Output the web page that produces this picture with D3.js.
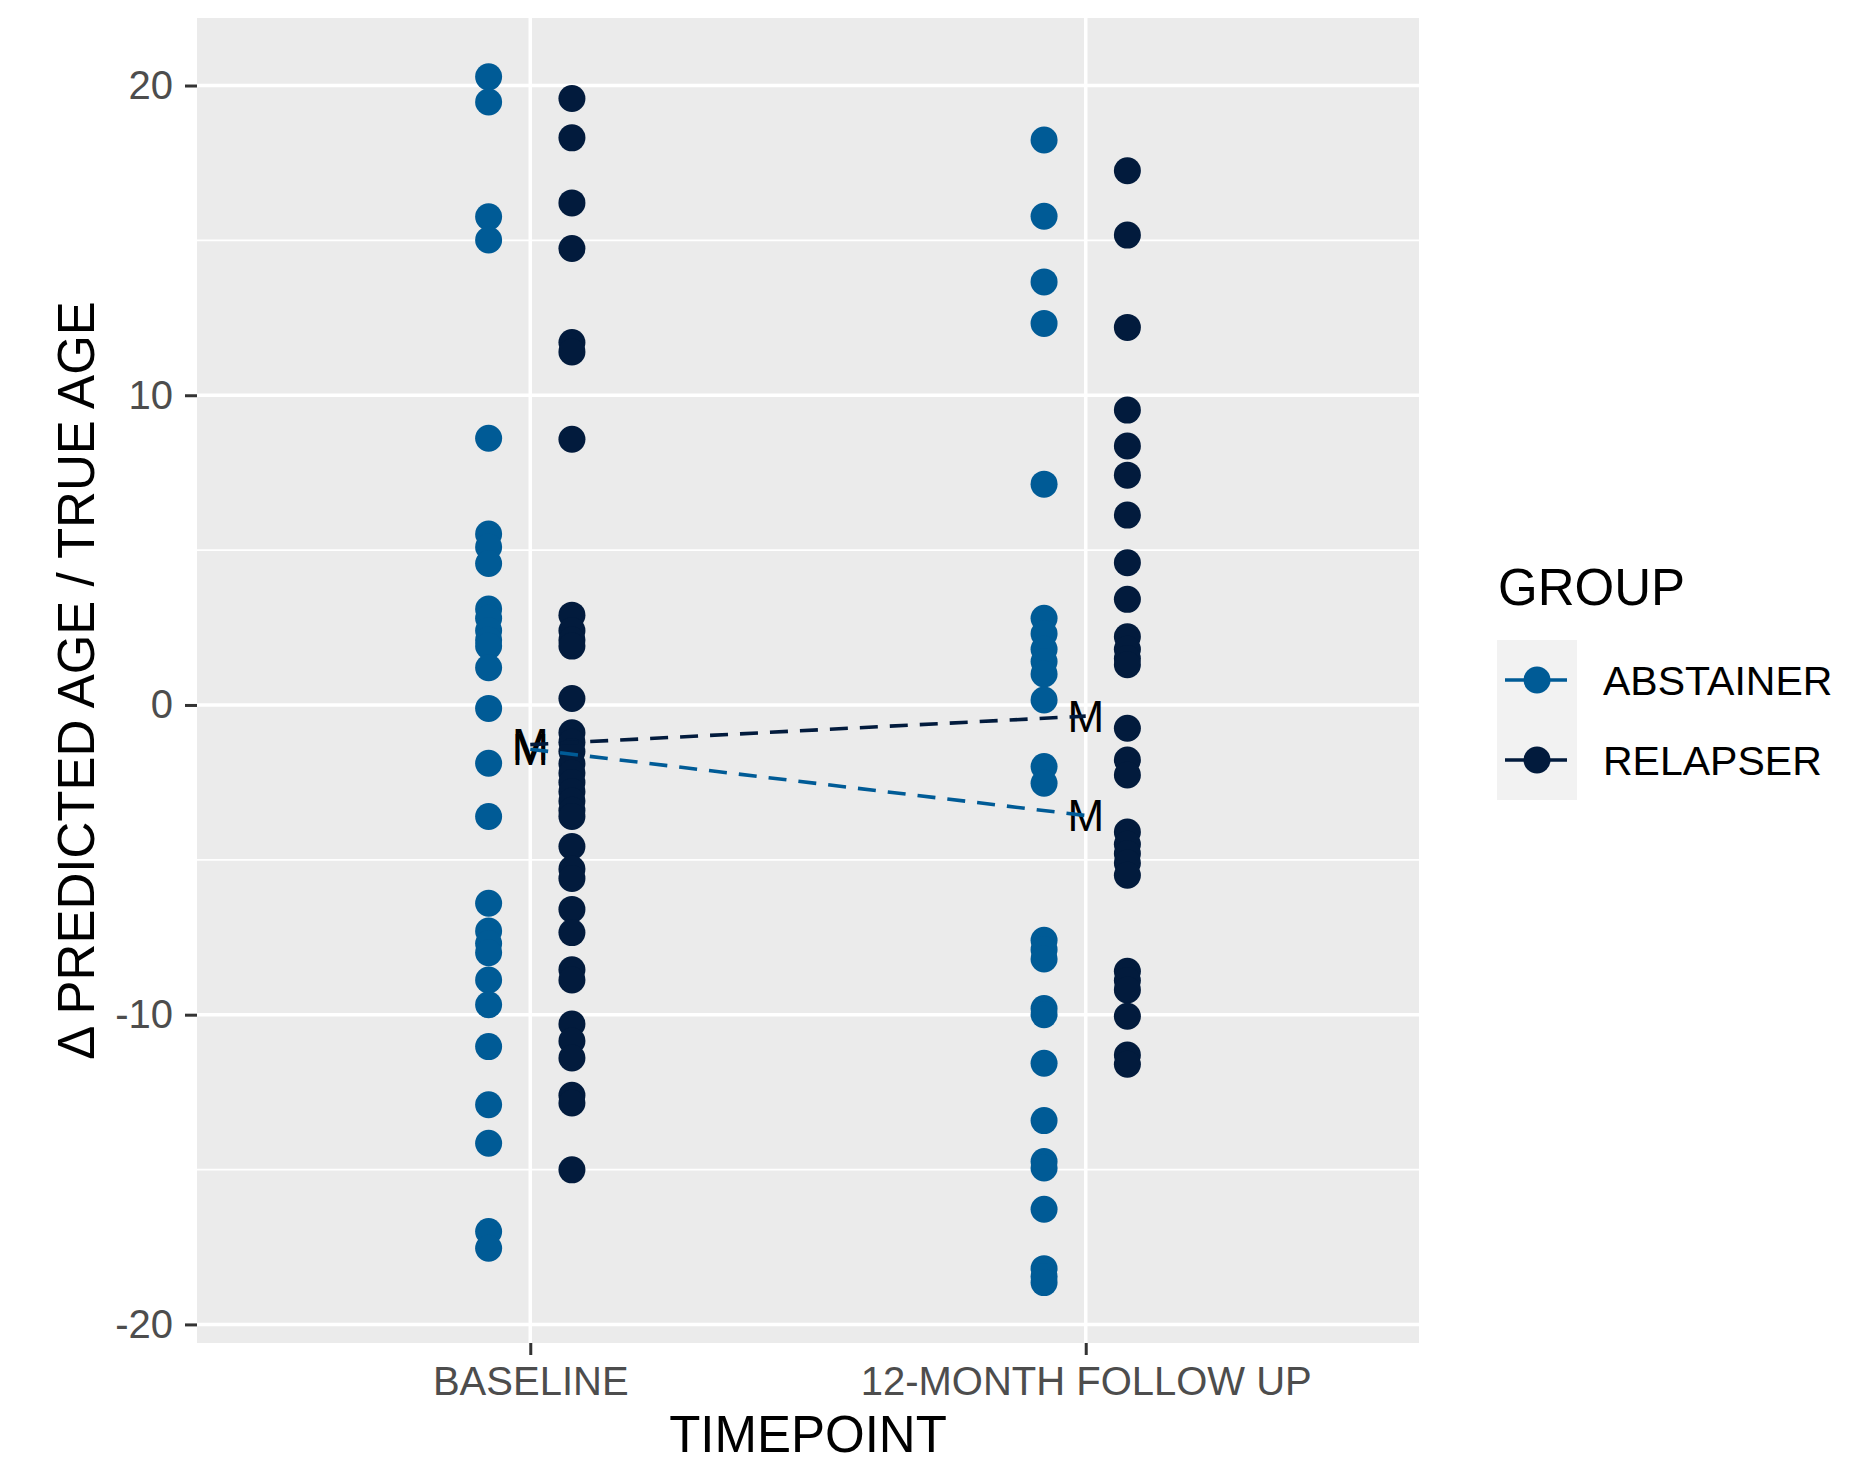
<!DOCTYPE html>
<meta charset="utf-8">
<style>
body { margin: 0; background: #fff; }
svg, text { font-family: 'Liberation Sans', Arial, sans-serif; }
</style>
<body>
<script src="https://d3js.org/d3.v7.min.js"></script>
<script>

// values
var timepoints = ["BASELINE", "12-MONTH FOLLOW UP"];
var groups = ["ABSTAINER", "RELAPSER"];
var colors = ["#005b96", "#021b3d"];

var baselineAbstainer = [20.28, 19.47, 15.76, 15.01, 8.61, 5.52, 5.1, 4.57, 3.1, 2.8, 2.4, 2.1, 1.9, 1.2,
  -0.11, -1.88, -3.6, -6.4, -7.3, -7.7, -8.0, -8.88, -9.68, -11.03, -12.91, -14.15, -17.0, -17.54];
var baselineRelapser = [19.58, 18.31, 16.21, 14.74, 11.7, 11.4, 8.58, 2.9, 2.4, 2.1, 1.9, 0.21,
  -0.9, -1.2, -1.5, -1.9, -2.2, -2.5, -2.8, -3.1, -3.4, -3.6, -4.57, -5.3, -5.6, -6.6, -7.35,
  -8.55, -8.88, -10.3, -10.85, -11.4, -12.6, -12.85, -15.01];
var followAbstainer = [18.24, 15.78, 13.66, 12.32, 7.13, 2.8, 2.3, 1.8, 1.4, 1.0, 0.16, -1.99, -2.53,
  -7.6, -7.9, -8.2, -9.8, -10.0, -11.57, -13.42, -14.74, -14.95, -16.28, -18.2, -18.45, -18.65];
var followRelapser = [17.25, 15.17, 12.19, 9.52, 8.36, 7.42, 6.13, 4.59, 3.41, 2.2, 1.8, 1.5, 1.3,
  -0.75, -1.78, -2.26, -4.1, -4.5, -4.8, -5.1, -5.5, -8.6, -8.9, -9.2, -10.05, -11.3, -11.6];

// group means (M labels), baseline then follow up
var meanAbstainer = [-1.43, -3.57];
var meanRelapser = [-1.28, -0.36];

var yTicks = [-20, -10, 0, 10, 20];
var yMinor = [-15, -5, 5, 15];

var width = 1859, height = 1458;
var panel = {left: 197, right: 1419, top: 18, bottom: 1343};

var x = d3.scaleLinear().domain([0.4, 2.6]).range([panel.left, panel.right]),
    y = d3.scaleLinear().domain([-20.6, 22.18]).range([panel.bottom, panel.top]);

var dodge = [-0.075, 0.075];

var svg = d3.select("body").append("svg")
    .attr("width", width)
    .attr("height", height);

// panel + grid
svg.append("rect")
    .attr("x", panel.left).attr("y", panel.top)
    .attr("width", panel.right - panel.left)
    .attr("height", panel.bottom - panel.top)
    .attr("fill", "#ebebeb");

svg.selectAll(".minor").data(yMinor).enter().append("line")
    .attr("x1", panel.left).attr("x2", panel.right)
    .attr("y1", d => y(d)).attr("y2", d => y(d))
    .attr("stroke", "#fff").attr("stroke-width", 1.8);

svg.selectAll(".major").data(yTicks).enter().append("line")
    .attr("x1", panel.left).attr("x2", panel.right)
    .attr("y1", d => y(d)).attr("y2", d => y(d))
    .attr("stroke", "#fff").attr("stroke-width", 3.5);

svg.selectAll(".vmajor").data(timepoints).enter().append("line")
    .attr("x1", (d, i) => x(i + 1)).attr("x2", (d, i) => x(i + 1))
    .attr("y1", panel.top).attr("y2", panel.bottom)
    .attr("stroke", "#fff").attr("stroke-width", 3.5);

// points
var series = [
  {t: 1, g: 0, values: baselineAbstainer},
  {t: 1, g: 1, values: baselineRelapser},
  {t: 2, g: 0, values: followAbstainer},
  {t: 2, g: 1, values: followRelapser}
];
var points = [];
series.forEach(function(s) {
  s.values.forEach(function(v) { points.push({t: s.t, g: s.g, v: v}); });
});

svg.append("g").selectAll("circle")
    .data(points).enter().append("circle")
    .attr("cx", d => x(d.t + dodge[d.g]))
    .attr("cy", d => y(d.v))
    .attr("r", 13.5)
    .attr("fill", d => colors[d.g]);

// mean labels then dashed mean lines
var means = [meanAbstainer, meanRelapser];

means.forEach(function(m, g) {
  svg.append("g").selectAll("text")
      .data(m).enter().append("text")
      .attr("x", (d, i) => x(i + 1))
      .attr("y", d => y(d))
      .attr("dy", "0.36em")
      .attr("text-anchor", "middle")
      .attr("font-size", 44)
      .attr("fill", "#000")
      .text("M");
});

var meanLine = d3.line()
    .x((d, i) => x(i + 1))
    .y(d => y(d));

means.forEach(function(m, g) {
  svg.append("path")
      .datum(m)
      .attr("d", meanLine)
      .attr("fill", "none")
      .attr("stroke", colors[g])
      .attr("stroke-width", 3.6)
      .attr("stroke-dasharray", "18,12");
});

// axes
var yAxis = d3.axisLeft(y).tickValues(yTicks).tickSize(12).tickPadding(12)
    .tickFormat(d => String(d));
var xAxis = d3.axisBottom(x).tickValues([1, 2]).tickSize(12).tickPadding(12)
    .tickFormat((d, i) => timepoints[i]);

var gy = svg.append("g")
    .attr("transform", "translate(" + panel.left + ",0)")
    .call(yAxis);
var gx = svg.append("g")
    .attr("transform", "translate(0," + panel.bottom + ")")
    .call(xAxis);

[gx, gy].forEach(function(g) {
  g.select(".domain").remove();
  g.selectAll(".tick line").attr("stroke", "#333").attr("stroke-width", 3);
  g.selectAll(".tick text")
      .attr("fill", "#4d4d4d")
      .attr("font-size", 40)
      .attr("font-family", "'Liberation Sans', Arial, sans-serif");
});

svg.append("text")
    .attr("x", (panel.left + panel.right) / 2)
    .attr("y", 1452)
    .attr("text-anchor", "middle")
    .attr("font-size", 51)
    .text("TIMEPOINT");

svg.append("text")
    .attr("transform", "translate(94," + ((panel.top + panel.bottom) / 2) + ") rotate(-90)")
    .attr("text-anchor", "middle")
    .attr("font-size", 51)
    .text("\u0394 PREDICTED AGE / TRUE AGE");

// legend
var legend = svg.append("g");

legend.append("text")
    .attr("x", 1498).attr("y", 605)
    .attr("font-size", 51)
    .text("GROUP");

var keys = legend.selectAll(".key").data(groups).enter().append("g")
    .attr("transform", (d, i) => "translate(1497," + (640 + i * 80) + ")");

keys.append("rect")
    .attr("width", 80).attr("height", 80)
    .attr("fill", "#f2f2f2");

keys.append("line")
    .attr("x1", 8).attr("x2", 70)
    .attr("y1", 40).attr("y2", 40)
    .attr("stroke", (d, i) => colors[i])
    .attr("stroke-width", 3.3);

keys.append("circle")
    .attr("cx", 40).attr("cy", 40).attr("r", 13.5)
    .attr("fill", (d, i) => colors[i]);

keys.append("text")
    .attr("x", 106).attr("y", 55)
    .attr("font-size", 41)
    .text(d => d);

</script>
</body>
